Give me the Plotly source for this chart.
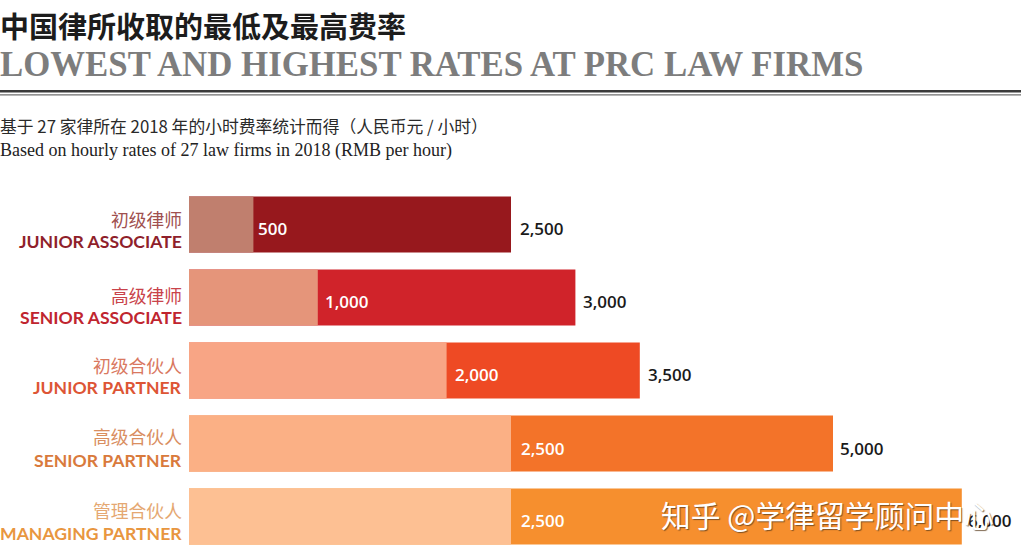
import plotly.graph_objects as go

W, H = 1021, 560

categories = ["JUNIOR ASSOCIATE", "SENIOR ASSOCIATE", "JUNIOR PARTNER", "SENIOR PARTNER", "MANAGING PARTNER"]
categories_cn = ["初级律师", "高级律师", "初级合伙人", "高级合伙人", "管理合伙人"]
lowest = [500, 1000, 2000, 2500, 2500]
highest = [2500, 3000, 3500, 5000, 6000]

high_colors = ["#97181d", "#d0232a", "#ee4a24", "#f37329", "#f68f2e"]
low_colors = ["#c07f6e", "#e5957a", "#f8a585", "#fbb085", "#fdc093"]
en_colors = ["#8f1f2b", "#c0252f", "#dd5535", "#d97a3c", "#e8963f"]
cn_colors = ["#a0504f", "#c9434a", "#d9785f", "#d98e5f", "#e5a872"]

# 原圖每列標籤的微調（px）
low_dx = [5, 7, 8, 10, 10]
high_dx = [9, 8, 8, 7, 6]
value_dy = [-4, -4, -4, -5, -4]
cn_dy = [6, 3, 6, 8, 7]
en_dy = [-17, -20, -17, -17, -17]

SERIF = "Liberation Serif"
CJK = "Noto Sans CJK SC"
SANS = "Lato"

fig = go.Figure()
# 高值在底，低值蓋在上面
fig.add_trace(go.Bar(y=categories, x=highest, orientation="h", marker=dict(color=high_colors, line_width=0), showlegend=False))
fig.add_trace(go.Bar(y=categories, x=lowest, orientation="h", marker=dict(color=low_colors, line_width=0), showlegend=False))

ann = []
for i, cat in enumerate(categories):
    ann.append(dict(x=lowest[i], y=cat, text=f"{lowest[i]:,}", xref="x", yref="y", xanchor="left", xshift=low_dx[i], yshift=value_dy[i],
                    showarrow=False, borderpad=0, borderwidth=0, font=dict(family="Open Sans", size=17, color="#fff", weight=600)))
    ann.append(dict(x=highest[i], y=cat, text=f"{highest[i]:,}", xref="x", yref="y", xanchor="left", xshift=high_dx[i], yshift=value_dy[i],
                    showarrow=False, borderpad=0, borderwidth=0, font=dict(family="Open Sans", size=17, color="#1a1a1a", weight=600)))
    ann.append(dict(x=182 / W, y=cat, text=categories_cn[i], xref="paper", yref="y", xanchor="right", yshift=cn_dy[i],
                    showarrow=False, borderpad=0, borderwidth=0, font=dict(family=CJK, size=17.8, color=cn_colors[i])))
    ann.append(dict(x=182 / W, y=cat, text=cat, xref="paper", yref="y", xanchor="right", yshift=en_dy[i],
                    showarrow=False, borderpad=0, borderwidth=0, font=dict(family=SANS, size=17.6, color=en_colors[i], weight=700)))


def page_text(x, y, text, family, size, color, weight=400):
    ann.append(dict(x=x / W, y=1 - y / H, text=text, xref="paper", yref="paper", xanchor="left", yanchor="middle",
                    showarrow=False, borderpad=0, borderwidth=0, font=dict(family=family, size=size, color=color, weight=weight)))


page_text(0, 25, "中国律所收取的最低及最高费率", CJK, 29, "#1c1c1c", 700)
page_text(0, 64, "LOWEST AND HIGHEST RATES AT PRC LAW FIRMS", SERIF, 34.8, "#7d7d7d", 700)
page_text(0, 126, "基于 27 家律所在 2018 年的小时费率统计而得（人民币元 / 小时）", CJK, 16.8, "#2a2a2a")
page_text(0, 151, "Based on hourly rates of 27 law firms in 2018 (RMB per hour)", SERIF, 18, "#222222")

# 水印
ann.append(dict(x=661 / W, y=1 - 514 / H, text="知乎 @学律留学顾问中心", xref="paper", yref="paper", xanchor="left", yanchor="middle",
                showarrow=False, borderpad=0, borderwidth=0,
                font=dict(family=CJK, size=29.8, color="#ffffff", shadow="1px 1px 1px rgba(90,60,30,0.75)")))

fig.update_layout(
    width=W, height=H,
    margin=dict(l=0, r=0, t=0, b=0),
    paper_bgcolor="#ffffff", plot_bgcolor="#ffffff",
    barmode="overlay", bargap=17 / 73,
    annotations=ann,
    shapes=[
        dict(type="rect", xref="paper", yref="paper", x0=0, x1=1, y0=1 - 92.6 / H, y1=1 - 90 / H, fillcolor="#3a3a3a", line_width=0),
        dict(type="rect", xref="paper", yref="paper", x0=0, x1=1, y0=1 - 95.5 / H, y1=1 - 94.3 / H, fillcolor="#6e6e6e", line_width=0),
    ],
)
px_per_unit = 0.1288
fig.update_xaxes(visible=False, range=[-189 / px_per_unit, (W - 189) / px_per_unit])
fig.update_yaxes(visible=False, type="category", categoryorder="array", categoryarray=categories,
                 range=[(H - 224.5) / 73, -224.5 / 73])

# 頁面預設 body margin 會把圖推開 8px
fig.write_html("out.html", config={"displayModeBar": False},
               post_script="document.body.style.margin='0';document.body.style.overflow='hidden';")
